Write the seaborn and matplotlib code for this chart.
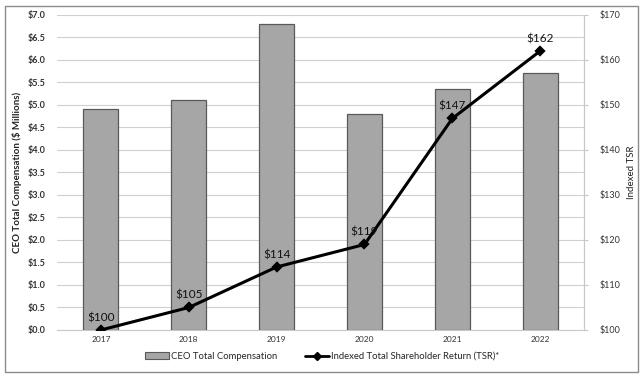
import numpy as np
import matplotlib
matplotlib.use("Agg")
import matplotlib.pyplot as plt
import seaborn as sns
import pandas as pd
from matplotlib.patches import Rectangle
from matplotlib.lines import Line2D

years = ["2017", "2018", "2019", "2020", "2021", "2022"]
ceo_comp = [4.9, 5.1, 6.8, 4.8, 5.35, 5.72]
tsr = [100, 105, 114, 119, 147, 162]
tsr_labels = ["$100", "$105", "$114", "$119", "$147", "$162"]

sns.set_style("white")
plt.rcParams['font.family'] = ['Lato', 'DejaVu Sans']

df = pd.DataFrame({'year': years, 'comp': ceo_comp, 'tsr': tsr})

fig = plt.figure(figsize=(6.44, 3.8), dpi=100)
ax = fig.add_axes([0.0885, 0.1316, 0.8185, 0.829])

sns.barplot(data=df, x='year', y='comp', ax=ax, color='#a6a6a6',
            saturation=1, width=0.4, edgecolor='#5a5a5a', linewidth=0.9,
            zorder=2)
ax.set_ylim(0, 7)
ax.set_yticks(np.arange(0, 7.01, 0.5))
ax.set_yticklabels([f"${v:.1f}" for v in np.arange(0, 7.01, 0.5)],
                   fontsize=6.5, fontweight='bold', color='#333333')
ax.grid(axis='y', color='#d0d0d0', linewidth=0.8, zorder=0)
ax.set_axisbelow(True)
for s in ['top', 'left']:
    ax.spines[s].set_visible(False)
ax.spines['bottom'].set_color('#c8c8c8')
ax.spines['right'].set_color('#c8c8c8')
ax.set_xlabel('')
ax.set_ylabel('CEO Total Compensation ($ Millions)', fontsize=7,
              fontweight='bold', color='#222222', labelpad=4)
ax.tick_params(axis='x', labelsize=6, colors='#333333', length=0, pad=4)
ax.tick_params(axis='y', length=0, pad=8)

ax2 = ax.twinx()
sns.pointplot(data=df, x='year', y='tsr', ax=ax2, color='black',
              markers='D', linewidth=2.2, markersize=4.5)
ax2.set_ylim(100, 170)
ax2.set_yticks(range(100, 171, 10))
ax2.set_yticklabels([f"${v}" for v in range(100, 171, 10)],
                    fontsize=6.5, color='#333333')
ax2.tick_params(axis='y', length=3, color='#c8c8c8', pad=8)
for s in ['top', 'left', 'bottom']:
    ax2.spines[s].set_visible(False)
ax2.spines['right'].set_color('#c8c8c8')
ax2.set_ylabel('Indexed TSR', fontsize=7, color='#222222', labelpad=5)
ax2.set_xlabel('')
ax.set_xlim(-0.5, 5.5)

for i, (v, lab) in enumerate(zip(tsr, tsr_labels)):
    ax2.annotate(lab, (i, v), xytext=(0, 5), textcoords='offset points',
                 ha='center', va='bottom', fontsize=8.5, color='#111111')

handles = [Rectangle((0, 0), 1, 1, facecolor='#a6a6a6', edgecolor='#5a5a5a', linewidth=0.8),
           Line2D([0], [0], color='black', linewidth=2, marker='D', markersize=4)]
fig.legend(handles, ['CEO Total Compensation', 'Indexed Total Shareholder Return (TSR)*'],
           loc='center', bbox_to_anchor=(0.5, 0.062), ncol=2, frameon=False,
           fontsize=6.8, handlelength=2.5, handletextpad=0.2, columnspacing=3)

fig.patches.append(Rectangle((0.008, 0.02), 0.982, 0.965, transform=fig.transFigure,
                             fill=False, edgecolor='#8c8c8c', linewidth=1))

fig.savefig('out.png', dpi=100)
